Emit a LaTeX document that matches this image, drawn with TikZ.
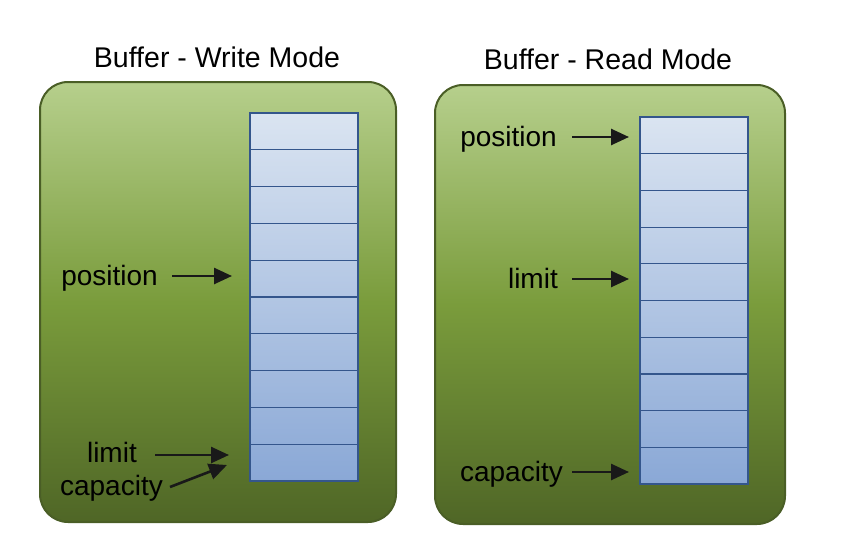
\documentclass[tikz,border=0pt]{standalone}
\usepackage{fontspec}
\setmainfont{Liberation Sans}
\usetikzlibrary{arrows.meta}
\definecolor{gTop}{HTML}{B6CF8C}
\definecolor{gMid}{HTML}{7A9C3C}
\definecolor{gBot}{HTML}{4F6626}
\definecolor{gEdge}{HTML}{4A5E26}
\definecolor{cTop}{HTML}{DAE4F1}
\definecolor{cBot}{HTML}{8AA8D6}
\definecolor{cEdge}{HTML}{34568C}
\tikzset{
  modebox/.style={draw=gEdge, line width=2pt, rounded corners=28pt,
    top color=gTop, bottom color=gBot, middle color=gMid, inner sep=0pt},
  cell/.style={draw=cEdge, line width=1.2pt, inner sep=0pt, minimum width=108pt},
  lbl/.style={font=\fontsize{28}{33}\selectfont, inner sep=0pt, anchor=base east},
  ttl/.style={font=\fontsize{28.5}{33}\selectfont, inner sep=0pt, anchor=base},
  arr/.style={draw=black!90, line width=2.6pt, -{Triangle[length=18pt,width=16pt]}}
}
\begin{document}
\begin{tikzpicture}[x=1pt,y=-1pt]
\useasboundingbox (0,0) rectangle (857,546);
% boxes
\node[modebox, minimum width=356pt, minimum height=440pt] (lbox) at (218,302) {};
\node[modebox, minimum width=350pt, minimum height=439pt] (rbox) at (610,304.5) {};
% titles
\node[ttl] (ltitle) at (217,67) {Buffer - Write Mode};
\node[ttl] (rtitle) at (608,69) {Buffer - Read Mode};
% cells
\foreach \i in {0,...,9}{
  \pgfmathsetmacro{\pa}{10*\i}
  \pgfmathsetmacro{\pb}{10*(\i+1)}
  \node[cell, minimum height=36.8pt, top color=cBot!\pa!cTop, bottom color=cBot!\pb!cTop]
    (L\i) at (304,{113+36.8*\i+18.4}) {};
  \node[cell, minimum height=36.7pt, top color=cBot!\pa!cTop, bottom color=cBot!\pb!cTop]
    (R\i) at (694,{117+36.7*\i+18.35}) {};
}
% left labels
\node[lbl] (lpos) at (158,285) {position};
\node[lbl] (llim) at (137,462) {limit};
\node[lbl] (lcap) at (163,495) {capacity};
\coordinate (lposT) at (232,276);
\coordinate (llimT) at (229,455);
\coordinate (lcapT) at (227,465);
\draw[arr] ([xshift=14pt,yshift=9pt]lpos.base east) -- (lposT);
\draw[arr] ([xshift=18pt,yshift=7pt]llim.base east) -- (llimT);
\draw[arr] ([xshift=7pt,yshift=8pt]lcap.base east) -- (lcapT);
% right labels
\node[lbl] (rpos) at (557,146) {position};
\node[lbl] (rlim) at (558,288) {limit};
\node[lbl] (rcap) at (563,481) {capacity};
\coordinate (rposT) at (629,137);
\coordinate (rlimT) at (629,279);
\coordinate (rcapT) at (629,472);
\draw[arr] ([xshift=15pt,yshift=9pt]rpos.base east) -- (rposT);
\draw[arr] ([xshift=14pt,yshift=9pt]rlim.base east) -- (rlimT);
\draw[arr] ([xshift=9pt,yshift=9pt]rcap.base east) -- (rcapT);
\end{tikzpicture}
\end{document}
